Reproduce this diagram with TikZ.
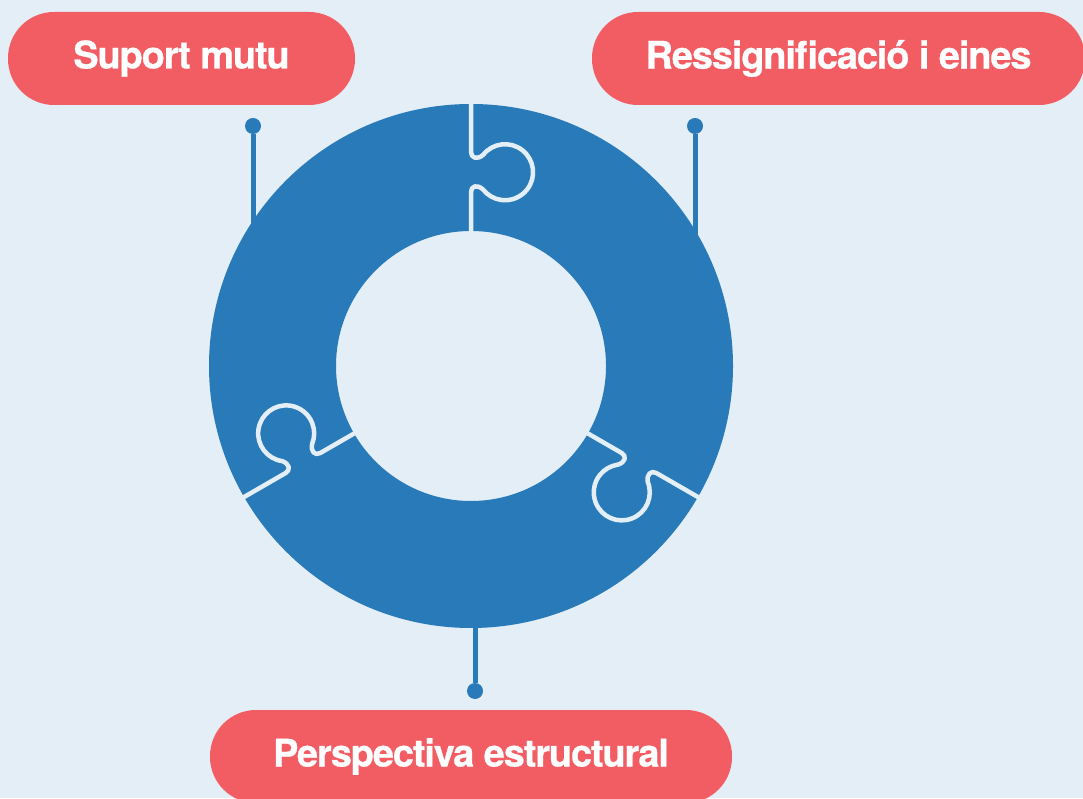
\documentclass[tikz,border=0pt]{standalone}
\usepackage{fontspec}
\setmainfont{TeX Gyre Heros}
\newfontfamily\pillfont[LetterSpace=-3, FakeBold=0.6]{TeX Gyre Heros Bold}
\usepackage{xcolor}
\definecolor{bgblue}{RGB}{228,238,247}
\definecolor{ringblue}{RGB}{40,122,185}
\definecolor{pillred}{RGB}{242,93,99}

% one puzzle cut, drawn at the top of the ring
\newcommand{\puzzlecut}{(0,268) -- (0,214) .. controls (0,208) and (6,206) .. (12,211)
    arc[start angle=142, end angle=-142, radius=28pt]
    .. controls (6,182) and (0,180) .. (0,174) -- (0,128)}

\begin{document}
\begin{tikzpicture}[
    x=1pt, y=1pt,
    pill/.style={fill=pillred, text=white, rounded corners=46pt, minimum height=93pt,
        font=\pillfont\fontsize{38}{42}\selectfont, inner sep=0pt},
    dot/.style={circle, fill=ringblue, minimum size=16pt, inner sep=0pt},
    link/.style={draw=ringblue, line width=5pt},
    cut/.style={draw=bgblue, line width=4.5pt, line cap=round, line join=round}
]
\useasboundingbox[fill=bgblue] (0,0) rectangle (1083,798);

% labels
\node[pill, minimum width=347pt] (suport) at (181.5,739.5) {Suport mutu};
\node[pill, minimum width=493pt] (ressig) at (838.5,739.5) {Ressignificació i eines};
\node[pill, minimum width=522pt] (persp) at (471,41.5) {Perspectiva estructural};

% pins
\node[dot] (dotsuport) at (253,672) {};
\node[dot] (dotressig) at (695,672) {};
\node[dot] (dotpersp) at (475,107) {};
\coordinate (endsuport) at (253,560);
\coordinate (endressig) at (695,550);
\coordinate (endpersp) at (475,200);
\draw[link] (dotsuport) -- (endsuport);
\draw[link] (dotressig) -- (endressig);
\draw[link] (dotpersp) -- (endpersp);

% ring
\coordinate (ring) at (471,432);
\fill[ringblue, even odd rule] (ring) circle (262pt) circle (135pt);
\draw[cut, shift={(ring)}] \puzzlecut;
\draw[cut, shift={(ring)}, rotate=120] \puzzlecut;
\draw[cut, shift={(ring)}, rotate=240] \puzzlecut;
\end{tikzpicture}
\end{document}
